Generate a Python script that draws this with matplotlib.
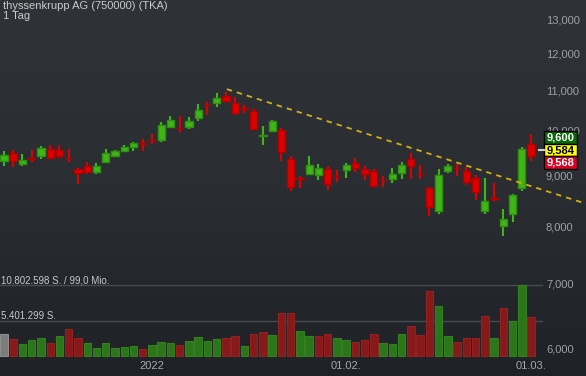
import numpy as np
import matplotlib
matplotlib.use("Agg")
import matplotlib.pyplot as plt
from matplotlib.ticker import NullLocator, FixedLocator
from matplotlib.patches import Rectangle
from matplotlib.lines import Line2D
from matplotlib.colors import LinearSegmentedColormap
import matplotlib.transforms as mtransforms

plt.rcParams['font.family'] = ['Liberation Sans', 'DejaVu Sans']

# ---------------- data ----------------
title = "thyssenkrupp AG (750000) (TKA)"
period = "1 Tag"

opens = [9.33, 9.49, 9.26, 9.38, 9.44, 9.58, 9.56, 9.37, 9.14, 9.21,
         9.09, 9.31, 9.43, 9.55, 9.64, 9.72, 9.79, 9.79, 10.10, 10.07,
         10.10, 10.32, 10.63, 10.69, 10.86, 10.67, 10.55, 10.47, 9.89, 10.00,
         10.02, 9.36, 8.95, 9.05, 9.03, 9.14, 9.00, 9.13, 9.27, 9.14,
         9.10, 8.92, 8.94, 9.07, 9.36, 9.05, 8.75, 8.30, 9.11, 9.17,
         9.10, 8.96, 8.30, 8.54, 8.00, 8.23, 8.74, 9.70]
highs = [9.54, 9.57, 9.48, 9.57, 9.66, 9.68, 9.68, 9.58, 9.17, 9.29,
         9.27, 9.58, 9.57, 9.67, 9.74, 9.81, 9.93, 10.21, 10.36, 10.36,
         10.33, 10.65, 10.70, 10.93, 10.96, 10.82, 10.63, 10.52, 10.12, 10.26,
         10.07, 9.44, 9.00, 9.43, 9.26, 9.21, 9.13, 9.27, 9.39, 9.21,
         9.14, 9.00, 9.17, 9.30, 9.49, 9.23, 8.76, 9.14, 9.26, 9.25,
         9.20, 9.01, 8.95, 8.85, 8.33, 8.63, 9.63, 9.93]
lows = [9.22, 9.20, 9.22, 9.29, 9.37, 9.36, 9.39, 9.29, 8.84, 9.05,
        9.05, 9.27, 9.40, 9.51, 9.55, 9.55, 9.69, 9.75, 10.07, 9.98,
        10.05, 10.24, 10.39, 10.59, 10.72, 10.38, 10.44, 10.04, 9.68, 9.98,
        9.33, 8.68, 8.74, 9.03, 8.92, 8.71, 8.87, 8.96, 9.09, 8.92,
        8.76, 8.78, 8.86, 8.94, 8.94, 8.94, 8.20, 8.24, 9.07, 9.00,
        8.82, 8.51, 8.23, 8.49, 7.82, 8.08, 8.68, 9.33]
closes = [9.45, 9.33, 9.34, 9.37, 9.60, 9.39, 9.42, 9.36, 9.06, 9.09,
          9.21, 9.49, 9.54, 9.63, 9.72, 9.71, 9.78, 10.14, 10.26, 10.06,
          10.23, 10.50, 10.62, 10.80, 10.74, 10.44, 10.54, 10.05, 9.90, 10.23,
          9.51, 8.78, 8.94, 9.23, 9.16, 8.84, 8.99, 9.23, 9.16, 9.05,
          8.80, 8.91, 9.04, 9.24, 9.22, 9.04, 8.36, 9.02, 9.21, 9.16,
          8.87, 8.66, 8.49, 8.53, 8.14, 8.61, 9.59, 9.43]
volumes_mio = [3.35, 2.59, 1.83, 2.48, 2.69, 2.03, 3.04, 4.06, 2.69, 1.93,
               1.27, 1.93, 1.17, 1.37, 1.52, 1.01, 1.62, 2.13, 1.93, 1.62,
               2.28, 2.94, 2.28, 2.59, 2.79, 3.04, 1.52, 3.30, 3.70, 3.15,
               6.50, 6.50, 3.80, 3.09, 2.99, 3.30, 2.79, 2.38, 2.18, 2.38,
               3.30, 1.98, 1.78, 3.39, 4.61, 3.20, 9.89, 7.61, 3.00, 2.18,
               2.79, 2.79, 6.13, 2.79, 7.26, 5.33, 10.802598, 5.98]

vol_max = 10.802598
vol_max_label = "10.802.598 S. / 99,0 Mio."
vol_half_label = "5.401.299 S."

xtick_pos = [16, 37, 57]
xtick_labels = ["2022", "01.02.", "01.03."]
ytick_vals = [6, 7, 8, 9, 10, 11, 12, 13]
ytick_labels = ["6,000", "7,000", "8,000", "9,000", "10,000", "11,000", "12,000", "13,000"]

trend_x = [24.1, 63.0]
trend_y = [11.03, 8.43]

quote_labels = ["9,600", "9,584", "9,568"]

# ---------------- figure ----------------
W, H = 586, 376
fig = plt.figure(figsize=(W / 100, H / 100), dpi=100)

bg = fig.add_axes([0, 0, 1, 1], zorder=0)
cmap = LinearSegmentedColormap.from_list('bg', ['#2f3337', '#2a2e32', '#1e2125'])
bg.imshow(np.linspace(0, 1, 256).reshape(-1, 1), aspect='auto', cmap=cmap,
          extent=[0, 1, 0, 1], origin='upper')
bg.set_axis_off()

n = len(closes)
x = np.arange(n)
XLIM = (-0.432, 62.94)

# volume axes
vax = fig.add_axes([0, 0, 1, 1], zorder=1)
vax.patch.set_alpha(0)
vax.set_xlim(*XLIM)
vax.set_ylim(-3.043, 54.17)
vax.set_axis_off()

vfill, vedge = [], []
for i in range(n):
    if i == 0:
        vfill.append('#7c7c7c'); vedge.append('#8e8e8e')
    elif closes[i] >= closes[i - 1]:
        vfill.append('#2c761a'); vedge.append('#357f22')
    else:
        vfill.append('#861a1a'); vedge.append('#922222')
vax.bar(x, volumes_mio, width=0.8, color=vfill, edgecolor=vedge, linewidth=0.8)

for lvl, lab in [(vol_max, vol_max_label), (vol_max / 2, vol_half_label)]:
    vax.axhline(lvl, xmin=0, xmax=542 / W, color='#474b4f', lw=1.0, zorder=0.5)
    tr = mtransforms.blended_transform_factory(vax.transAxes, vax.transData)
    vax.text(1 / W, lvl, lab, transform=tr, ha='left', va='bottom',
             fontsize=7, color='#c6c8ca')

# price axes
ax = fig.add_axes([0, 0, 1, 1], zorder=2)
ax.patch.set_alpha(0)
ax.set_yscale('log')
ax.set_ylim(5.632, 13.593)
ax.set_xlim(*XLIM)
for s in ax.spines.values():
    s.set_visible(False)

up_fill, up_edge = '#3fb516', '#2e9010'
dn_fill, dn_edge = '#dd0000', '#b20000'
o = np.array(opens); c = np.array(closes)
hi = np.array(highs); lo = np.array(lows)
is_up = c >= o
wick_col = [up_fill if u else dn_fill for u in is_up]
ax.vlines(x, lo, hi, colors=wick_col, lw=1.5, zorder=3)
body_bottom = np.minimum(o, c)
body_h = np.abs(c - o)
ax.bar(x, body_h, bottom=body_bottom, width=0.78,
       color=[up_fill if u else dn_fill for u in is_up],
       edgecolor=[up_edge if u else dn_edge for u in is_up],
       linewidth=1.0, zorder=4)

ax.plot(trend_x, trend_y, color='#d2b012', lw=1.3, dashes=(3.0, 2.8), zorder=5)

ax.yaxis.set_major_locator(FixedLocator(ytick_vals))
ax.yaxis.set_minor_locator(NullLocator())
ax.set_yticks(ytick_vals, labels=ytick_labels)
ax.yaxis.set_minor_locator(NullLocator())
ax.yaxis.tick_right()
ax.tick_params(axis='y', which='both', length=0, pad=-28.8, labelsize=8,
               labelcolor='#9da1a5')
ax.set_xticks(xtick_pos, labels=xtick_labels)
ax.tick_params(axis='x', length=0, pad=-11, labelsize=8, labelcolor='#a6a8aa')

# quote boxes
box_specs = [(131, 144.3, '#0b680b', 'white'),
             (144.3, 156.3, '#ffff00', 'black'),
             (156.3, 169.3, '#dd0022', 'white')]
for (ytop, ybot, fc, tc), lab in zip(box_specs, quote_labels):
    rect = Rectangle((544 / W, 1 - ybot / H), 33 / W, (ybot - ytop) / H,
                     transform=fig.transFigure, facecolor=fc, edgecolor='black',
                     lw=1.0, zorder=10)
    fig.add_artist(rect)
    fig.text(560.5 / W, 1 - (ytop + ybot) / 2 / H, lab, ha='center', va='center',
             fontsize=8, fontweight='bold', color=tc, zorder=11)
fig.add_artist(Line2D([539 / W, 544 / W], [1 - 150 / H] * 2, color='#d0d0d0',
                      lw=1.5, transform=fig.transFigure, zorder=10))

fig.text(3 / W, 1 - 1 / H, title, ha='left', va='top', fontsize=8, color='#c8cacc')
fig.text(3 / W, 1 - 11 / H, period, ha='left', va='top', fontsize=8, color='#c8cacc')

fig.savefig('out.png', dpi=100)
